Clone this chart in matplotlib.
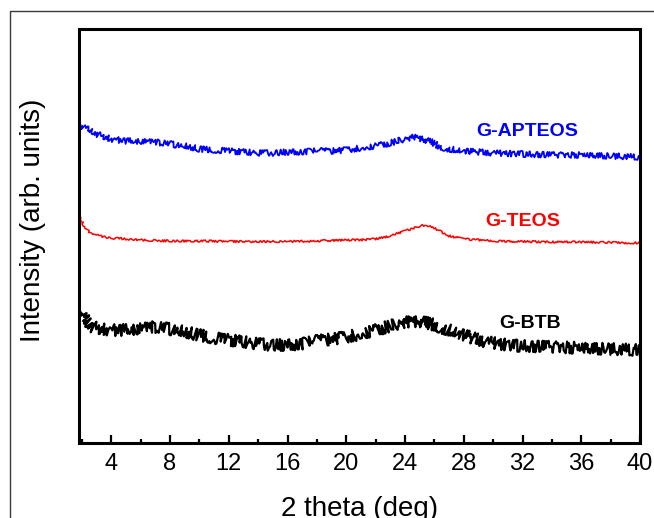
import matplotlib
matplotlib.use("Agg")
import matplotlib.pyplot as plt
from matplotlib.ticker import MultipleLocator, FixedLocator
from matplotlib.patches import Rectangle

plt.rcParams['font.family'] = ['Liberation Sans', 'DejaVu Sans']

# Stacked XRD patterns (arbitrary units, offset for display)
two_theta_apteos = [1.9, 2.2, 3, 4, 5, 6, 7, 8, 9, 10, 11, 12, 13, 14, 15, 16, 17, 18, 19, 20,
                    21, 22, 23, 24, 24.6, 25.2, 25.8, 26.4, 27, 28, 29, 30, 32, 34, 36, 38, 40]
int_apteos = [318, 315, 309, 304, 302, 302, 301, 299, 297, 294, 293, 292, 291, 290, 290, 291, 291,
              292, 292, 293, 295, 297, 300, 304, 306, 304, 301, 296, 294, 292, 291, 290, 289, 288,
              288, 287, 286]

two_theta_teos = [1.9, 2.1, 2.5, 3, 3.5, 4, 5, 6, 8, 10, 12, 14, 16, 18, 20, 21, 22, 23, 24, 25,
                  25.5, 26, 26.5, 27, 28, 29, 30, 32, 34, 36, 38, 40]
int_teos = [226, 218, 211, 208, 206, 205, 204, 203, 202, 202, 201.5, 201.5, 201.5, 202, 203, 203,
            204, 207, 212, 217, 218, 215, 211, 207, 204, 203, 202, 201.5, 201, 201, 200.5, 200]

two_theta_btb = [1.9, 2.2, 2.6, 3, 4, 5, 6, 7, 8, 9, 10, 11, 12, 13, 14, 15, 16, 17, 18, 19, 20,
                 21, 22, 23, 24, 25, 26, 27, 28, 29, 30, 31, 32, 34, 36, 38, 40]
int_btb = [131, 123, 117, 115, 113, 113, 115, 116, 114, 111, 108, 105, 103, 101, 99, 98, 98, 99,
           102, 104, 106, 109, 113, 117, 121, 122, 118, 113, 108, 103, 100, 98, 97, 96, 95, 94, 93]

series_labels = ["G-APTEOS", "G-TEOS", "G-BTB"]
series_colors = ["#0000ff", "#ff0000", "#000000"]
label_pos = [(32.3, 312), (32.0, 221), (32.5, 120)]
x_ticks = [4, 8, 12, 16, 20, 24, 28, 32, 36, 40]

fig = plt.figure(figsize=(6.54, 5.18), dpi=100)
fig.patch.set_facecolor("white")

# thin outer frame
fig.patches.append(Rectangle((10 / 654, -0.1), 1.2, 1.1 - 11 / 518,
                             transform=fig.transFigure, fill=False,
                             edgecolor="#3a3a3a", linewidth=1.0))

ax = fig.add_axes([79 / 654, 1 - 443 / 518, (640 - 79) / 654, (443 - 29) / 518])

data = [(two_theta_apteos, int_apteos), (two_theta_teos, int_teos), (two_theta_btb, int_btb)]
# jagged rendering of the counting noise (scale, length, randomness)
sketch = [(3.0, 0.2, 4.0), (1.0, 0.25, 4.0), (6.0, 0.2, 4.0)]
widths = [1.3, 1.1, 1.6]
for (x, y), c, sk, lw in zip(data, series_colors, sketch, widths):
    line, = ax.plot(x, y, color=c, linewidth=lw)
    line.set_sketch_params(*sk)

for (lx, ly), text, c in zip(label_pos, series_labels, series_colors):
    ax.text(lx, ly, text, color=c, fontsize=14, fontweight="bold", ha="center", va="center")

ax.set_xlim(1.8, 40)
ax.set_ylim(0, 414)
ax.xaxis.set_major_locator(FixedLocator(x_ticks))
ax.xaxis.set_minor_locator(MultipleLocator(2))
ax.set_yticks([])
ax.tick_params(axis="x", which="major", direction="in", length=6, width=1.6,
               labelsize=17, pad=7, top=False)
ax.tick_params(axis="x", which="minor", direction="in", length=3, width=1.6, top=False)
for s in ax.spines.values():
    s.set_linewidth(2.2)

ax.set_xlabel("2 theta (deg)", fontsize=20)
ax.xaxis.set_label_coords(0.5, -0.128)
ax.set_ylabel("Intensity (arb. units)", fontsize=20)
ax.yaxis.set_label_coords(-0.058, 0.539)

fig.savefig("out.png", dpi=100)
